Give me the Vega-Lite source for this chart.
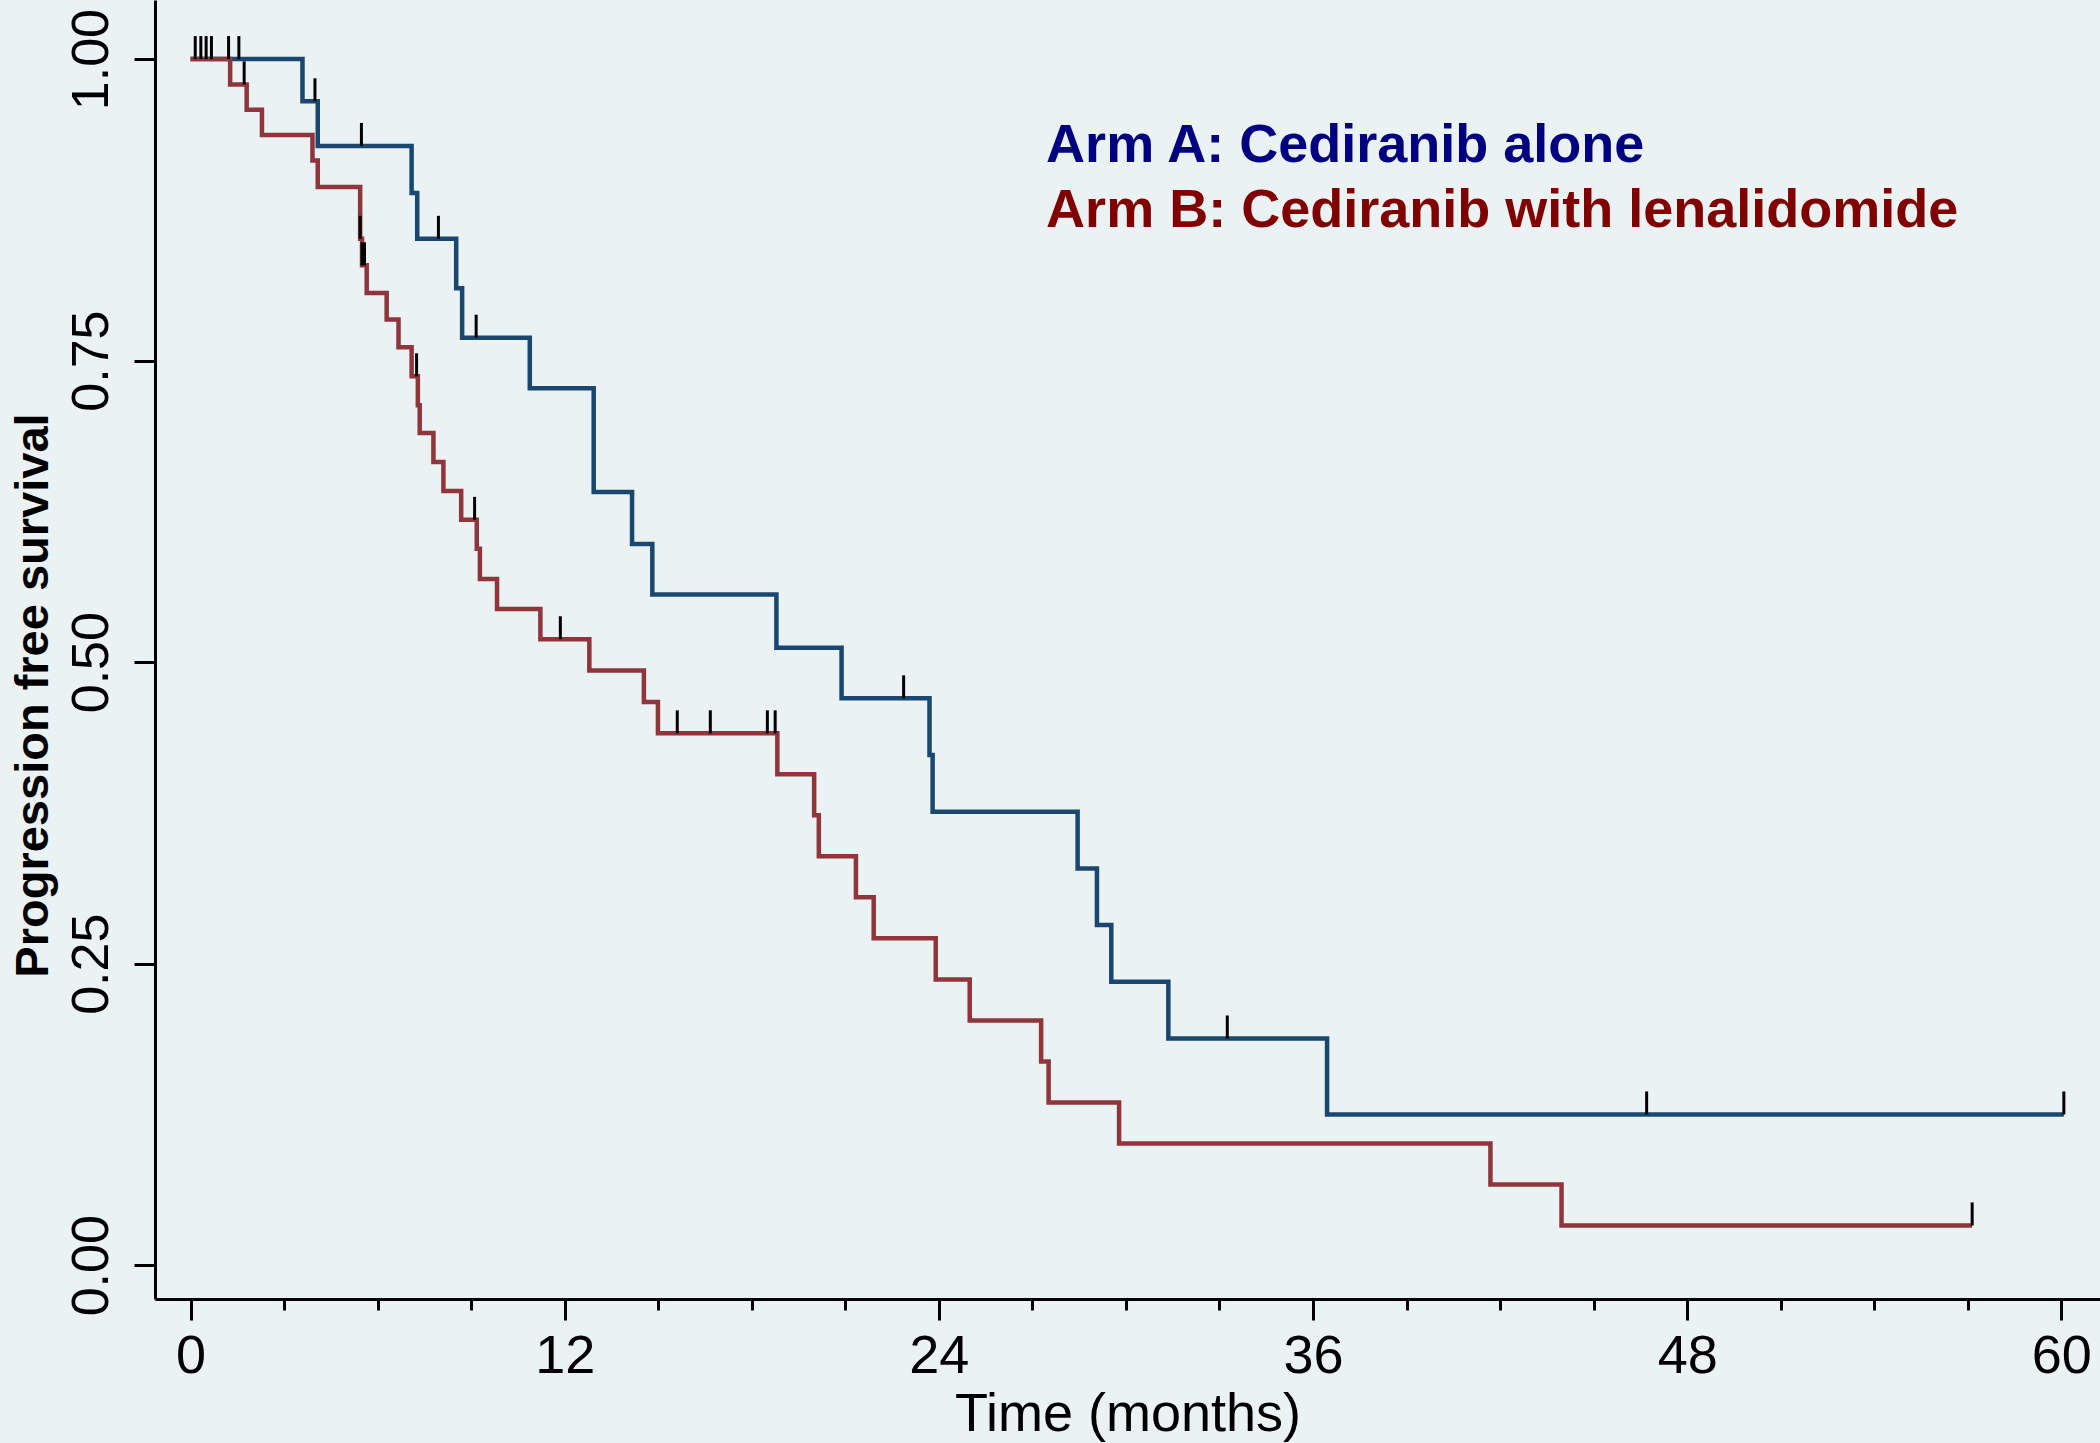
{
  "$schema": "https://vega.github.io/schema/vega-lite/v6.json",
  "width": 1945,
  "height": 1299,
  "autosize": {"type": "none"},
  "padding": {"left": 155, "top": 0, "right": 0, "bottom": 144},
  "background": "#EAF2F3",
  "config": {"view": {"stroke": null, "fill": "#EAF2F3"}, "font": "Liberation Sans"},
  "datasets": {
    "curve": [
      {"arm": "Arm A", "t": 0, "s": 1.0},
      {"arm": "Arm A", "t": 3.59, "s": 0.965},
      {"arm": "Arm A", "t": 4.08, "s": 0.928},
      {"arm": "Arm A", "t": 7.09, "s": 0.889},
      {"arm": "Arm A", "t": 7.27, "s": 0.851},
      {"arm": "Arm A", "t": 8.52, "s": 0.810},
      {"arm": "Arm A", "t": 8.71, "s": 0.769},
      {"arm": "Arm A", "t": 10.88, "s": 0.727},
      {"arm": "Arm A", "t": 12.93, "s": 0.641},
      {"arm": "Arm A", "t": 14.16, "s": 0.598},
      {"arm": "Arm A", "t": 14.81, "s": 0.556},
      {"arm": "Arm A", "t": 18.79, "s": 0.512},
      {"arm": "Arm A", "t": 20.88, "s": 0.470},
      {"arm": "Arm A", "t": 23.70, "s": 0.423},
      {"arm": "Arm A", "t": 23.80, "s": 0.376},
      {"arm": "Arm A", "t": 28.45, "s": 0.329},
      {"arm": "Arm A", "t": 29.07, "s": 0.282},
      {"arm": "Arm A", "t": 29.53, "s": 0.235},
      {"arm": "Arm A", "t": 31.36, "s": 0.188},
      {"arm": "Arm A", "t": 36.45, "s": 0.125},
      {"arm": "Arm A", "t": 60.08, "s": 0.125},
      {"arm": "Arm B", "t": 0, "s": 1.0},
      {"arm": "Arm B", "t": 1.27, "s": 0.979},
      {"arm": "Arm B", "t": 1.80, "s": 0.958},
      {"arm": "Arm B", "t": 2.29, "s": 0.937},
      {"arm": "Arm B", "t": 3.91, "s": 0.916},
      {"arm": "Arm B", "t": 4.08, "s": 0.894},
      {"arm": "Arm B", "t": 5.44, "s": 0.851},
      {"arm": "Arm B", "t": 5.50, "s": 0.829},
      {"arm": "Arm B", "t": 5.65, "s": 0.806},
      {"arm": "Arm B", "t": 6.29, "s": 0.784},
      {"arm": "Arm B", "t": 6.67, "s": 0.761},
      {"arm": "Arm B", "t": 7.09, "s": 0.737},
      {"arm": "Arm B", "t": 7.29, "s": 0.713},
      {"arm": "Arm B", "t": 7.35, "s": 0.690},
      {"arm": "Arm B", "t": 7.79, "s": 0.666},
      {"arm": "Arm B", "t": 8.11, "s": 0.642},
      {"arm": "Arm B", "t": 8.68, "s": 0.618},
      {"arm": "Arm B", "t": 9.18, "s": 0.594},
      {"arm": "Arm B", "t": 9.28, "s": 0.569},
      {"arm": "Arm B", "t": 9.83, "s": 0.544},
      {"arm": "Arm B", "t": 11.22, "s": 0.519},
      {"arm": "Arm B", "t": 12.79, "s": 0.493},
      {"arm": "Arm B", "t": 14.54, "s": 0.467},
      {"arm": "Arm B", "t": 14.99, "s": 0.441},
      {"arm": "Arm B", "t": 18.82, "s": 0.407},
      {"arm": "Arm B", "t": 20.00, "s": 0.373},
      {"arm": "Arm B", "t": 20.15, "s": 0.339},
      {"arm": "Arm B", "t": 21.34, "s": 0.305},
      {"arm": "Arm B", "t": 21.91, "s": 0.271},
      {"arm": "Arm B", "t": 23.90, "s": 0.237},
      {"arm": "Arm B", "t": 24.99, "s": 0.203},
      {"arm": "Arm B", "t": 27.28, "s": 0.169},
      {"arm": "Arm B", "t": 27.52, "s": 0.135},
      {"arm": "Arm B", "t": 29.78, "s": 0.101},
      {"arm": "Arm B", "t": 41.69, "s": 0.067},
      {"arm": "Arm B", "t": 43.97, "s": 0.033},
      {"arm": "Arm B", "t": 57.14, "s": 0.033}
    ],
    "censor": [
      {"arm": "Arm A", "t": 0.15, "s": 1.0},
      {"arm": "Arm A", "t": 0.33, "s": 1.0},
      {"arm": "Arm A", "t": 1.55, "s": 1.0},
      {"arm": "Arm A", "t": 3.99, "s": 0.965},
      {"arm": "Arm A", "t": 5.48, "s": 0.928},
      {"arm": "Arm A", "t": 7.95, "s": 0.851},
      {"arm": "Arm A", "t": 9.16, "s": 0.769},
      {"arm": "Arm A", "t": 22.87, "s": 0.470},
      {"arm": "Arm A", "t": 33.25, "s": 0.188},
      {"arm": "Arm A", "t": 46.70, "s": 0.125},
      {"arm": "Arm A", "t": 60.08, "s": 0.125},
      {"arm": "Arm B", "t": 0.50, "s": 1.0},
      {"arm": "Arm B", "t": 0.67, "s": 1.0},
      {"arm": "Arm B", "t": 1.22, "s": 1.0},
      {"arm": "Arm B", "t": 1.72, "s": 0.979},
      {"arm": "Arm B", "t": 5.44, "s": 0.851},
      {"arm": "Arm B", "t": 5.50, "s": 0.829},
      {"arm": "Arm B", "t": 5.58, "s": 0.829},
      {"arm": "Arm B", "t": 7.25, "s": 0.737},
      {"arm": "Arm B", "t": 9.11, "s": 0.618},
      {"arm": "Arm B", "t": 11.86, "s": 0.519},
      {"arm": "Arm B", "t": 15.61, "s": 0.441},
      {"arm": "Arm B", "t": 16.67, "s": 0.441},
      {"arm": "Arm B", "t": 18.50, "s": 0.441},
      {"arm": "Arm B", "t": 18.75, "s": 0.441},
      {"arm": "Arm B", "t": 57.14, "s": 0.033}
    ],
    "labels": [
      {"arm": "Arm A", "label": "Arm A: Cediranib alone", "t": 27.44, "s": 0.915},
      {"arm": "Arm B", "label": "Arm B: Cediranib with lenalidomide", "t": 27.44, "s": 0.861}
    ]
  },
  "layer": [
    {
      "data": {"name": "curve"},
      "mark": {"type": "line", "interpolate": "step-after", "strokeWidth": 4.5, "strokeJoin": "miter"},
      "encoding": {
        "x": {
          "field": "t",
          "type": "quantitative",
          "scale": {"domain": [-1.14, 61.24], "nice": false, "zero": false},
          "axis": {
            "values": [0, 3, 6, 9, 12, 15, 18, 21, 24, 27, 30, 33, 36, 39, 42, 45, 48, 51, 54, 57, 60],
            "labelExpr": "datum.value % 12 === 0 ? datum.label : ''",
            "tickSize": {"condition": {"test": "datum.value % 12 === 0", "value": 21}, "value": 11},
            "tickWidth": 3,
            "tickColor": "black",
            "domainColor": "black",
            "domainWidth": 3,
            "labelFontSize": 54,
            "labelColor": "black",
            "labelBaseline": "alphabetic",
            "labelPadding": 52,
            "labelOverlap": false,
            "labelFlush": false,
            "grid": false,
            "title": "Time (months)",
            "titleFontSize": 54,
            "titleFontWeight": "normal",
            "titleColor": "black",
            "titleBaseline": "alphabetic",
            "titleY": 131
          }
        },
        "y": {
          "field": "s",
          "type": "quantitative",
          "scale": {"domain": [-0.028, 1.049], "nice": false, "zero": false},
          "axis": {
            "values": [0, 0.25, 0.5, 0.75, 1],
            "format": ".2f",
            "tickSize": 21,
            "tickWidth": 3,
            "tickColor": "black",
            "domainColor": "black",
            "domainWidth": 3,
            "labelFontSize": 52,
            "labelColor": "black",
            "labelAngle": 270,
            "labelAlign": "center",
            "labelBaseline": "alphabetic",
            "labelPadding": 27,
            "labelOverlap": false,
            "labelFlush": false,
            "grid": false,
            "title": "Progression free survival",
            "titleFontSize": 47,
            "titleFontWeight": "bold",
            "titleColor": "black",
            "titleAngle": 270,
            "titleAlign": "center",
            "titleBaseline": "alphabetic",
            "titleX": -108,
            "titleY": 695
          }
        },
        "color": {
          "field": "arm",
          "type": "nominal",
          "scale": {"domain": ["Arm A", "Arm B"], "range": ["#1A476F", "#90353B"]},
          "legend": null
        }
      }
    },
    {
      "data": {"name": "censor"},
      "mark": {"type": "tick", "orient": "vertical", "color": "black", "opacity": 1, "size": 23, "thickness": 3, "yOffset": -11.5},
      "encoding": {
        "x": {"field": "t", "type": "quantitative"},
        "y": {"field": "s", "type": "quantitative"}
      }
    },
    {
      "data": {"name": "labels"},
      "mark": {"type": "text", "align": "left", "baseline": "alphabetic", "fontSize": 54, "fontWeight": "bold"},
      "encoding": {
        "x": {"field": "t", "type": "quantitative"},
        "y": {"field": "s", "type": "quantitative"},
        "text": {"field": "label"},
        "fill": {
          "field": "arm",
          "type": "nominal",
          "scale": {"domain": ["Arm A", "Arm B"], "range": ["#000080", "#800000"]},
          "legend": null
        }
      }
    }
  ]
}
